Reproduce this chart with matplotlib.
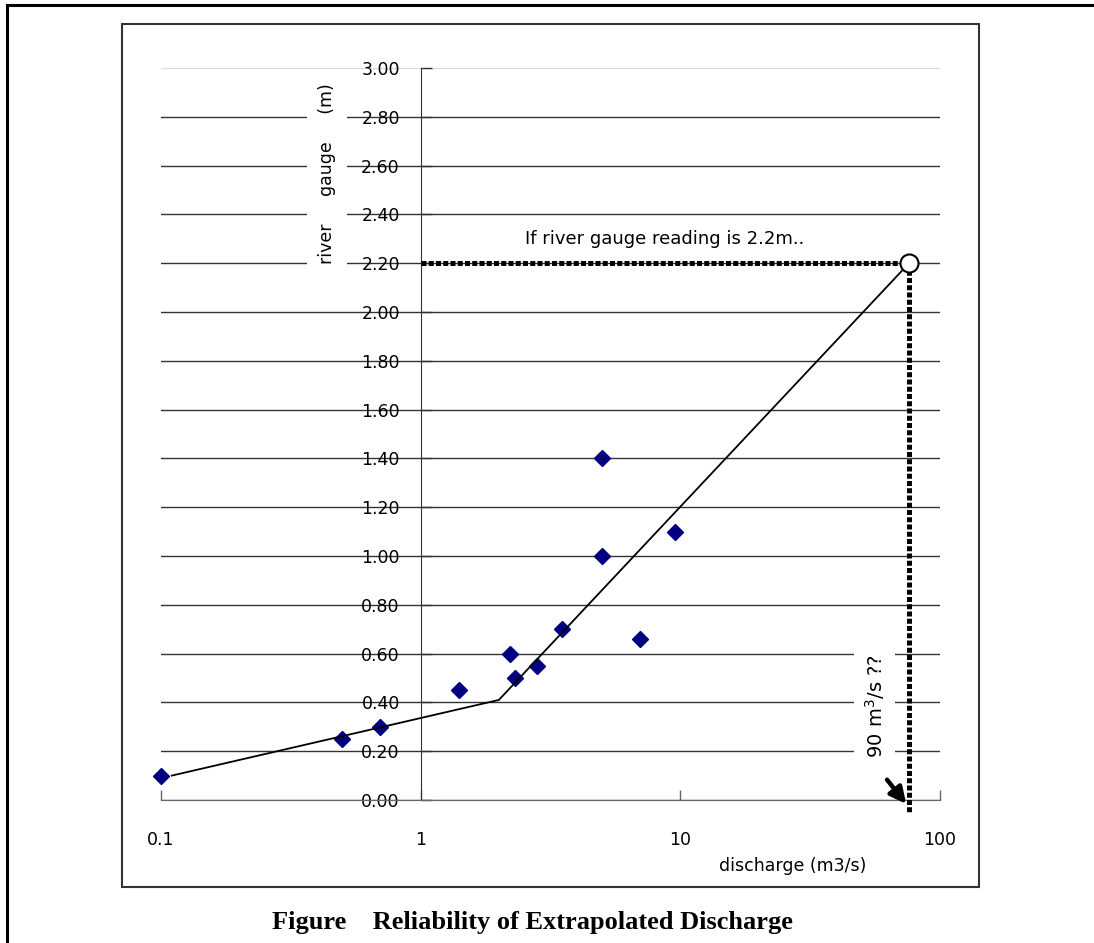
import matplotlib
matplotlib.use('Agg')
import matplotlib.pyplot as plt
from matplotlib.lines import Line2D
from matplotlib.patches import Rectangle
import matplotlib.transforms as transforms
import numpy as np

# observed gauge readings vs discharge
discharge = [0.1, 0.5, 0.7, 1.4, 2.2, 2.3, 2.8, 3.5, 5.0, 5.0, 7.0, 9.5]
gauge = [0.10, 0.25, 0.30, 0.45, 0.60, 0.50, 0.55, 0.70, 1.00, 1.40, 0.66, 1.10]

# fitted rating curve (two straight pieces on the log axis)
curve_q = [0.11, 2.0, 76.0]
curve_h = [0.10, 0.41, 2.20]

# extrapolated reading
reading_h = 2.2
reading_q = 76.0

x_ticks = [0.1, 1, 10, 100]
x_labels = ['0.1', '1', '10', '100']
y_ticks = np.arange(0, 3.01, 0.2)

W, H = 1094, 943
fig = plt.figure(figsize=(W / 100, H / 100), dpi=100)
plt.rcParams['font.family'] = ['DejaVu Sans']

# outer page border (only left and top visible)
fig.add_artist(Line2D([7 / W, 7 / W], [0, 1 - 5 / H], transform=fig.transFigure,
                      color='black', lw=2.2))
fig.add_artist(Line2D([7 / W, 1], [1 - 5 / H, 1 - 5 / H], transform=fig.transFigure,
                      color='black', lw=2.2))

# chart area frame
fig.add_artist(Rectangle((122 / W, 1 - 887 / H), (979 - 122) / W, (887 - 24) / H,
                         transform=fig.transFigure, fill=False,
                         edgecolor='#333333', lw=1.5))

ax = fig.add_axes([161 / W, 1 - 800 / H, (940 - 161) / W, (800 - 68) / H])
ax.set_xscale('log')
ax.set_xlim(0.1, 100)
ax.set_ylim(0, 3)
ax.patch.set_visible(False)

# axes cross at x = 1
ax.spines['left'].set_position(('data', 1))
ax.spines['left'].set_color('#333333')
ax.spines['bottom'].set_color('#666666')
ax.spines['top'].set_visible(False)
ax.spines['right'].set_visible(False)

ax.set_xticks(x_ticks)
ax.set_xticklabels(x_labels)
ax.xaxis.set_minor_locator(matplotlib.ticker.NullLocator())
ax.set_yticks(y_ticks)
ax.set_yticklabels(['%.2f' % v for v in y_ticks])
ax.tick_params(axis='y', direction='in', length=8, width=1, pad=15,
               labelsize=12.5, color='#333333')
ax.tick_params(axis='x', direction='in', length=7, width=1, pad=22,
               labelsize=12.5, color='#666666')

# horizontal gridlines
ax.yaxis.grid(True, color='#333333', lw=1)
ax.set_axisbelow(True)
ax.get_ygridlines()[-1].set_color('#dddddd')

# data
ax.plot(discharge, gauge, 'D', color='#000080', ms=8.5, clip_on=False, zorder=3)
ax.plot(curve_q, curve_h, '-', color='black', lw=1.3, zorder=4)

# dotted guide lines
dot_style = (0, (1, 0.45))
ax.plot([1, reading_q], [reading_h, reading_h], color='black', lw=3.6,
        linestyle=dot_style, dash_capstyle='butt', zorder=5)
ax.plot([reading_q, reading_q], [reading_h, -0.055], color='black', lw=3.6,
        linestyle=dot_style, dash_capstyle='butt', clip_on=False, zorder=5)
ax.plot(reading_q, reading_h, 'o', ms=13, mfc='white', mec='black', mew=1.5,
        clip_on=False, zorder=6)

# arrow pointing to the extrapolated discharge
ax.annotate('', xy=(reading_q * 0.99, -0.025), xytext=(reading_q * 0.81, 0.092),
            arrowprops=dict(arrowstyle='-|>', color='black', lw=3.2,
                            mutation_scale=24),
            annotation_clip=False, zorder=7)

# texts
blend = transforms.blended_transform_factory(ax.transAxes, ax.transData)
ax.text(0.646, reading_h + 0.1, 'If river gauge reading is 2.2m..', transform=blend,
        ha='center', va='center', fontsize=13, zorder=7)
ax.text(0.916, 0.128, '90 m$^3$/s ??', transform=ax.transAxes, rotation=90,
        ha='center', va='center', fontsize=14, zorder=7,
        bbox=dict(facecolor='white', edgecolor='none', pad=6))
ax.text(0.213, 0.856, 'river     gauge     (m)', transform=ax.transAxes,
        rotation=90, ha='center', va='center', fontsize=12.5, zorder=7,
        bbox=dict(facecolor='white', edgecolor='none', pad=8))
ax.text(0.811, -0.090, 'discharge (m3/s)', transform=ax.transAxes,
        ha='center', va='center', fontsize=12.5)

fig.text(532 / W, 1 - 922 / H, 'Figure    Reliability of Extrapolated Discharge',
         ha='center', va='center', fontsize=19, fontweight='bold',
         family='Liberation Serif')

fig.savefig('out.png', dpi=100)
